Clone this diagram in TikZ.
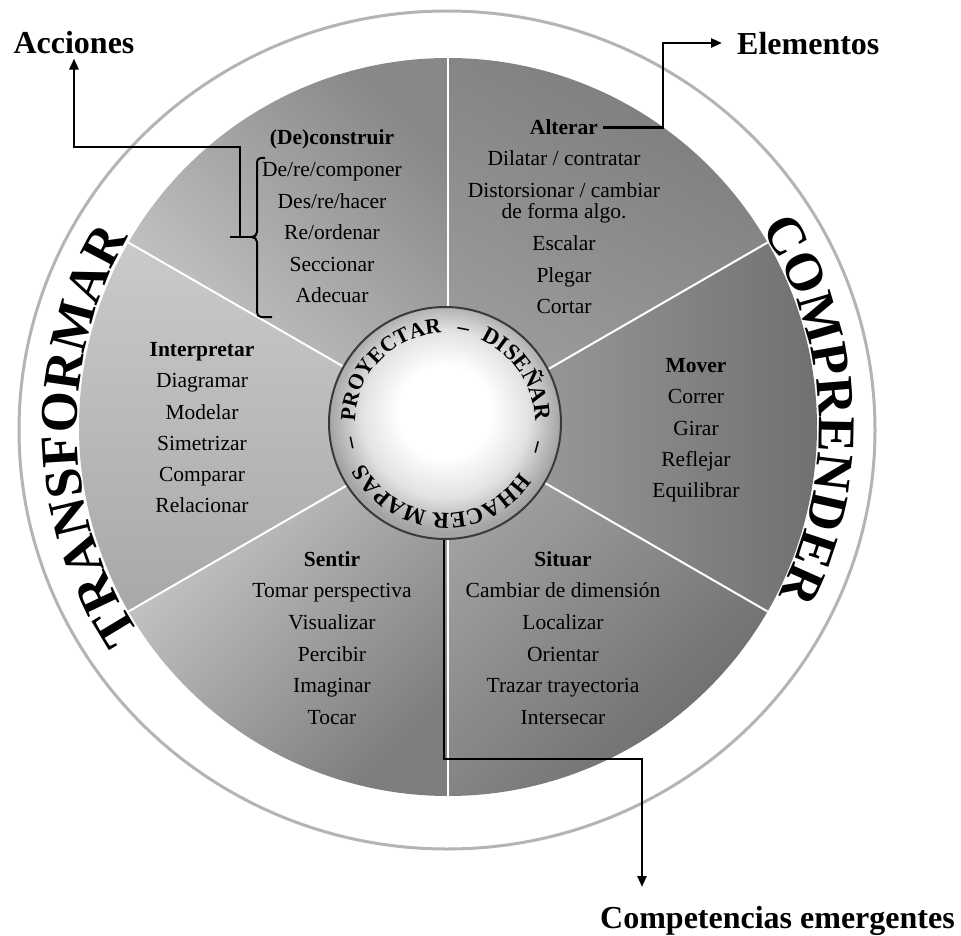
\documentclass[tikz,border=0pt]{standalone}
\usepackage{fontspec}
\setmainfont{Liberation Serif}
\usetikzlibrary{decorations.text, arrows.meta}
\definecolor{ringgray}{HTML}{B4B4B4}
\definecolor{hubline}{HTML}{3A3A3A}
\definecolor{hubedge}{HTML}{A4A4A4}
\definecolor{hubmid}{HTML}{E2E2E2}
\definecolor{sAa}{HTML}{CCCCCC}\definecolor{sAb}{HTML}{888888}
\definecolor{sBa}{HTML}{9E9E9E}\definecolor{sBb}{HTML}{7C7C7C}
\definecolor{sCa}{HTML}{A4A4A4}\definecolor{sCb}{HTML}{6E6E6E}
\definecolor{sDa}{HTML}{A3A3A3}\definecolor{sDb}{HTML}{6A6A6A}
\definecolor{sEa}{HTML}{CFCFCF}\definecolor{sEb}{HTML}{7E7E7E}
\definecolor{sFa}{HTML}{A8A8A8}\definecolor{sFb}{HTML}{CACACA}
\pgfdeclareradialshading{hubshade}{\pgfpoint{0bp}{3bp}}{color(0bp)=(white); color(10bp)=(white); color(18bp)=(hubmid); color(25bp)=(hubedge); color(50bp)=(hubedge)}
\newcommand{\ringfont}{\fontsize{53}{53}\selectfont\bfseries}
\newcommand{\hubfont}{\fontsize{23}{23}\selectfont\bfseries}
\newcommand{\hubfontsmall}{\fontsize{21.5}{21.5}\selectfont\bfseries}
\tikzset{
  item/.style={font=\fontsize{21.5}{26}\selectfont, inner sep=0pt, anchor=base},
  ttl/.style={item, font=\fontsize{21.5}{26}\selectfont\bfseries},
  lbl/.style={font=\fontsize{32}{36}\selectfont\bfseries, inner sep=0pt, anchor=base},
  conn/.style={line width=2.5pt, black},
  arr/.style={conn, -{Triangle[length=11pt,width=9pt]}},
  divider/.style={white, line width=2pt},
  bracest/.style={line width=2pt, black},
  ringline/.style={draw=ringgray, line width=3pt},
  hubnode/.style={circle, minimum size=232pt, inner sep=0pt, draw=hubline, line width=2pt, shading=hubshade},
  ringtext/.style={decorate, decoration={text along path, text align=center, text={|\ringfont|#1}}},
  hubtext/.style={decorate, decoration={text along path, text align=center, text={|\hubfont|#1}}},
  hubtextsmall/.style={decorate, decoration={text along path, text align=center, text={|\hubfontsmall|#1}}},
}
\begin{document}
\begin{tikzpicture}[x=1pt,y=1pt]
\useasboundingbox (0,-936) rectangle (961,0);
\draw[ringline] (447,-430) ellipse [x radius=428, y radius=419];
\begin{scope}[shift={(448,-427)}]
  \shade[top color=sAb, bottom color=sAa, shading angle=-45] (0,0) -- (90:369) arc[start angle=90, end angle=150, radius=369] -- cycle;
  \shade[top color=sBb, bottom color=sBa, shading angle=-30] (0,0) -- (30:369) arc[start angle=30, end angle=90, radius=369] -- cycle;
  \shade[top color=sCb, bottom color=sCa, shading angle=-90] (0,0) -- (-30:369) arc[start angle=-30, end angle=30, radius=369] -- cycle;
  \shade[top color=sDb, bottom color=sDa, shading angle=-135] (0,0) -- (-90:369) arc[start angle=-90, end angle=-30, radius=369] -- cycle;
  \shade[top color=sEb, bottom color=sEa, shading angle=-135] (0,0) -- (210:369) arc[start angle=210, end angle=270, radius=369] -- cycle;
  \shade[top color=sFb, bottom color=sFa, shading angle=0] (0,0) -- (150:369) arc[start angle=150, end angle=210, radius=369] -- cycle;
  \foreach \a in {90,30,-30,-90,210,150} \draw[divider] (0,0) -- (\a:369);
  \path[ringtext=TRANSFORMAR] (230:371) arc[start angle=230, end angle=133, radius=371];
  \path[ringtext=COMPRENDER] (51:371) arc[start angle=51, end angle=-45.5, radius=371];
\end{scope}
\node[hubnode] (hub) at (445,-423) {};
\begin{scope}[shift={(445,-423)}]
  \path[hubtextsmall=PROYECTAR] (200:90) arc[start angle=200, end angle=71, radius=90];
  \path[hubtext=–] (100:90) arc[start angle=100, end angle=58, radius=90];
  \path[hubtext=DISEÑAR] (80:90) arc[start angle=80, end angle=-12, radius=90];
  \path[hubtext=–] (5:90) arc[start angle=5, end angle=-35, radius=90];
  \path[hubtext=HHACER MAPAS] (-20:90) arc[start angle=-20, end angle=-167, radius=90];
  \path[hubtext=–] (212:90) arc[start angle=212, end angle=172, radius=90];
\end{scope}
% (De)construir
\node[ttl] (dc0) at (332,-145) {(De)construir};
\node[item] (dc1) at (332,-176.5) {De/re/componer};
\node[item] (dc2) at (332,-208) {Des/re/hacer};
\node[item] (dc3) at (332,-239.5) {Re/ordenar};
\node[item] (dc4) at (332,-271) {Seccionar};
\node[item] (dc5) at (332,-302.5) {Adecuar};
% Alterar
\node[ttl] (al0) at (564,-135) {Alterar};
\node[item] (al1) at (564,-166) {Dilatar / contratar};
\node[item] (al2) at (564,-197.5) {Distorsionar / cambiar};
\node[item] (al3) at (564,-218.5) {de forma algo.};
\node[item] (al4) at (564,-251) {Escalar};
\node[item] (al5) at (564,-282) {Plegar};
\node[item] (al6) at (564,-313.5) {Cortar};
% Mover
\node[ttl] (mv0) at (696,-372.3) {Mover};
\node[item] (mv1) at (696,-403) {Correr};
\node[item] (mv2) at (696,-435) {Girar};
\node[item] (mv3) at (696,-466) {Reflejar};
\node[item] (mv4) at (696,-497) {Equilibrar};
% Interpretar
\node[ttl] (in0) at (202,-356) {Interpretar};
\node[item] (in1) at (202,-387.5) {Diagramar};
\node[item] (in2) at (202,-419) {Modelar};
\node[item] (in3) at (202,-450.5) {Simetrizar};
\node[item] (in4) at (202,-481.5) {Comparar};
\node[item] (in5) at (202,-512) {Relacionar};
% Sentir
\node[ttl] (se0) at (332,-566.7) {Sentir};
\node[item] (se1) at (332,-597.7) {Tomar perspectiva};
\node[item] (se2) at (332,-629.3) {Visualizar};
\node[item] (se3) at (332,-661) {Percibir};
\node[item] (se4) at (332,-692.5) {Imaginar};
\node[item] (se5) at (332,-724) {Tocar};
% Situar
\node[ttl] (si0) at (563,-566.7) {Situar};
\node[item] (si1) at (563,-597) {Cambiar de dimensión};
\node[item] (si2) at (563,-629.3) {Localizar};
\node[item] (si3) at (563,-661) {Orientar};
\node[item] (si4) at (563,-692.5) {Trazar trayectoria};
\node[item] (si5) at (563,-724) {Intersecar};
% labels
\node[lbl] (acc) at (74,-54) {Acciones};
\node[lbl, anchor=base west] (elem) at (737,-55) {Elementos};
\node[lbl, anchor=base west] (comp) at (600,-928) {Competencias emergentes};
% brace
\coordinate (brtop) at (265,-158);
\coordinate (brbot) at (272,-317);
\coordinate (brpt) at (252,-237);
\coordinate (brstub) at (230,-237);
\draw[bracest] (brtop) -- (261,-158) to[out=180,in=90] (257,-162) -- (257,-232) to[out=-90,in=0] (brpt) to[out=0,in=90] (257,-242) -- (257,-312) to[out=-90,in=180] (261,-317) -- (brbot);
\draw[bracest] (brstub) -- (brpt);
% connectors
\coordinate (brtip) at (240,-237);
\coordinate (acck) at (240,-147);
\draw[arr, shorten >=4pt] (brtip) -- (acck) -| (acc.south);
\coordinate (elk) at (663,-43);
\draw[arr, shorten <=5pt, shorten >=15pt] (al0.east) -| (elk) -- (elk -| elem.west);
\coordinate (cka) at (444,-759);
\coordinate (ckb) at (642,-759);
\coordinate (ctip) at (642,-887);
\draw[arr] (hub.south -| cka) -- (cka) -- (ckb) -- (ctip);
\end{tikzpicture}
\end{document}
